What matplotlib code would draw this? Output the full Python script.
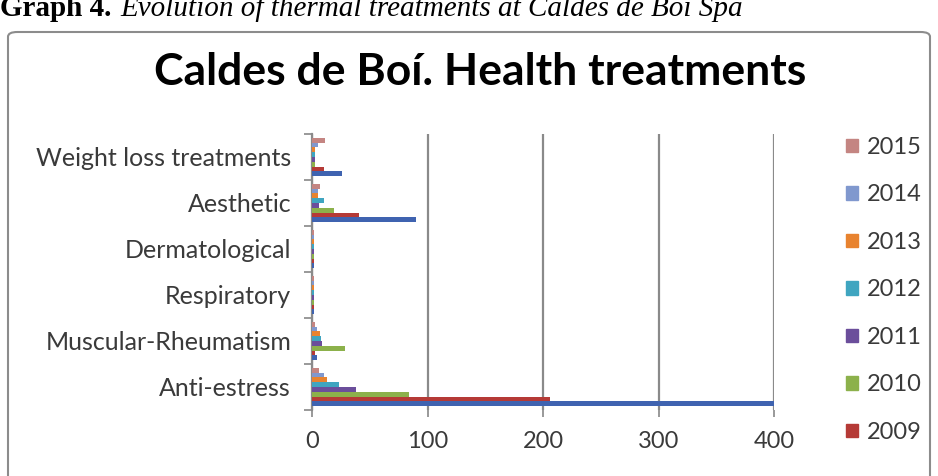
import numpy as np
import matplotlib
matplotlib.use("Agg")
import matplotlib.pyplot as plt
from matplotlib.patches import Patch, FancyBboxPatch

plt.rcParams['font.family'] = ['Lato', 'DejaVu Sans']

# data
categories = ['Anti-estress', 'Muscular-Rheumatism', 'Respiratory',
              'Dermatological', 'Aesthetic', 'Weight loss treatments']
years = ['2008', '2009', '2010', '2011', '2012', '2013', '2014', '2015']
values = {
    '2008': [400, 4, 2, 2, 90, 26],
    '2009': [206, 3, 2, 2, 41, 10],
    '2010': [84, 29, 2, 2, 19, 3],
    '2011': [38, 9, 2, 2, 6, 3],
    '2012': [23, 8, 2, 2, 10, 3],
    '2013': [13, 7, 2, 2, 5, 3],
    '2014': [10, 4, 2, 2, 5, 5],
    '2015': [6, 3, 2, 2, 7, 11],
}
colors = ['#3F63B0', '#B53A36', '#8CB14B', '#6B4E9B',
          '#3FA5C0', '#E8832F', '#8098CE', '#C48582']
legend_years = ['2015', '2014', '2013', '2012', '2011', '2010', '2009']
x_ticks = [0, 100, 200, 300, 400]

W, H = 938, 476
fig = plt.figure(figsize=(W / 100, H / 100), dpi=100)

# caption above the chart (cut off at the top in the source)
fig.text(0 / W, 1 - 16 / H, 'Graph 4.', family='Liberation Serif',
         fontweight='bold', fontsize=21, va='baseline', ha='left')
fig.text(120 / W, 1 - 16 / H,
         'Evolution of thermal treatments at Caldes de Boí Spa',
         family='Liberation Serif', style='italic', fontsize=21,
         va='baseline', ha='left')

# chart frame
frame = FancyBboxPatch((8 / W, -0.05), 922 / W, 1 - 32 / H + 0.05,
                       boxstyle='round,pad=0,rounding_size=0.01',
                       transform=fig.transFigure, fill=False,
                       edgecolor='#8c8c8c', linewidth=1.5)
fig.patches.append(frame)

fig.text(480 / W, 1 - 72 / H, 'Caldes de Boí. Health treatments',
         fontsize=32, fontweight='bold', ha='center', va='center')

ax = fig.add_axes([312 / W, 1 - 410 / H, (774 - 312) / W, 276 / H])

n = len(years)
h = 0.105
y = np.arange(len(categories))
for j, yr in enumerate(years):
    ax.barh(y - n * h / 2 + h * (j + 0.5), values[yr], height=h,
            color=colors[j], zorder=3)

ax.set_xlim(0, 400)
ax.set_ylim(-0.5, len(categories) - 0.5)
ax.set_xticks(x_ticks)
ax.set_xticklabels([str(t) for t in x_ticks], fontsize=17, color='#3a3a3a')
ax.set_yticks(y)
ax.set_yticklabels(categories, fontsize=18, color='#3a3a3a')
ax.set_yticks(np.arange(len(categories) + 1) - 0.5, minor=True)
ax.tick_params(axis='y', which='major', length=0, pad=15)
ax.tick_params(axis='y', which='minor', length=6, color='#888888', width=1.2)
ax.tick_params(axis='x', length=5, color='#888888', width=1.2, pad=10)
ax.grid(axis='x', color='#8a8a8a', linewidth=1.6, zorder=0)
for s in ['top', 'right', 'bottom']:
    ax.spines[s].set_visible(False)
ax.spines['left'].set_color('#8a8a8a')
ax.spines['left'].set_linewidth(1.6)

handles = [Patch(color=colors[years.index(yr)], label=yr) for yr in legend_years]
fig.legend(handles=handles, loc='upper left', bbox_to_anchor=(846 / W, 1 - 137 / H),
           frameon=False, fontsize=17, handlelength=0.5, handleheight=0.5,
           handletextpad=0.4, labelspacing=1.12, borderpad=0, borderaxespad=0,
           labelcolor='#3a3a3a')

fig.savefig('out.png', dpi=100)
